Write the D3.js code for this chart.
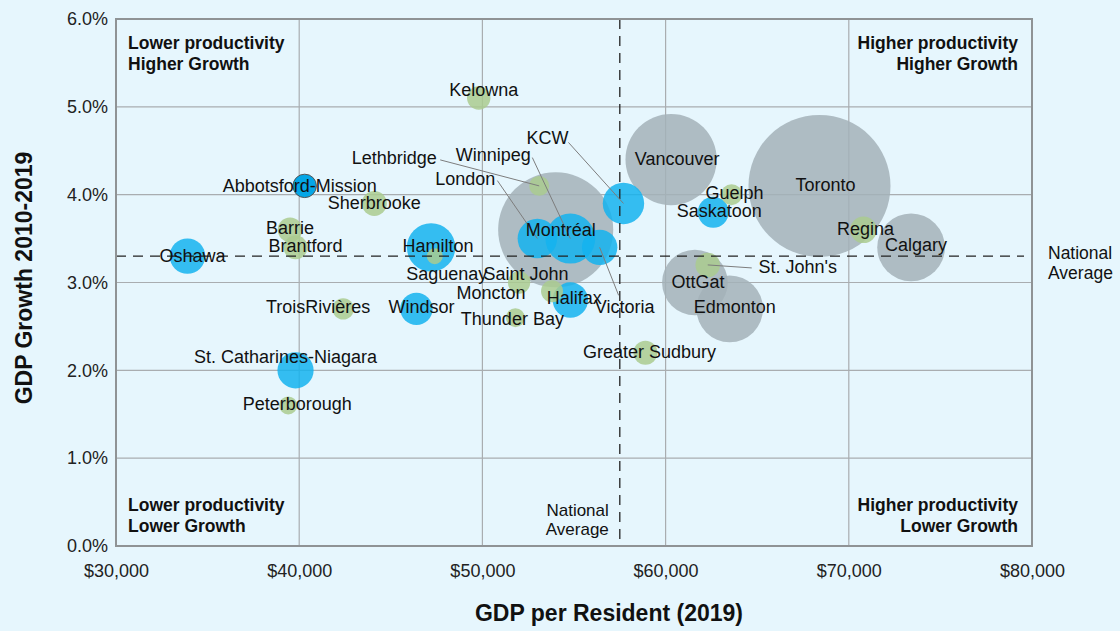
<!DOCTYPE html>
<html>
<head>
<meta charset="utf-8">
<script src="https://cdn.jsdelivr.net/npm/d3@7"></script>
<style>
  html, body { margin: 0; padding: 0; background: #e6f6fd; }
  svg { display: block; font-family: "Liberation Sans", Arial, Helvetica, sans-serif; }
</style>
</head>
<body>
<svg id="chart" width="1120" height="631"></svg>
<script>
// Census metropolitan areas: GDP per resident (2019), GDP growth 2010-2019 (%),
// population (thousands) and size class.
const cities = ["Toronto", "Montréal", "Vancouver", "Calgary", "Edmonton", "OttGat",
  "Winnipeg", "Hamilton", "KCW", "London", "St. Catharines-Niagara", "Halifax", "Oshawa",
  "Victoria", "Windsor", "Saskatoon", "Abbotsford-Mission",
  "Regina", "Sherbrooke", "St. John's", "Barrie", "Greater Sudbury", "Kelowna", "Brantford",
  "Guelph", "TroisRivières", "Saint John", "Moncton", "Lethbridge", "Thunder Bay",
  "Peterborough", "Saguenay"];
const gdpPerResident = [68400, 54000, 60300, 73400, 63500, 61600,
  54800, 47200, 57700, 53000, 39800, 54800, 33900,
  56400, 46400, 62600, 40300,
  70800, 44100, 62300, 39500, 58900, 49800, 39800,
  63600, 42400, 53800, 52000, 53100, 51800,
  39400, 47400];
const gdpGrowth = [4.1, 3.6, 4.4, 3.4, 2.7, 3.0,
  3.5, 3.4, 3.9, 3.5, 2.0, 2.8, 3.3,
  3.4, 2.7, 3.8, 4.1,
  3.6, 3.9, 3.2, 3.6, 2.2, 5.1, 3.4,
  4.0, 2.7, 2.9, 3.0, 4.1, 2.6,
  1.6, 3.3];
const population = [6470, 4250, 2670, 1470, 1425, 1385,
  800, 752, 550, 500, 420, 403, 403,
  403, 337, 305, 176,
  227, 200, 194, 194, 185, 176, 185,
  142, 147, 155, 160, 128, 116,
  104, 82];
const sizeClass = ["large", "large", "large", "large", "large", "large",
  "mid", "mid", "mid", "mid", "mid", "mid", "mid",
  "mid", "mid", "mid", "highlight",
  "small", "small", "small", "small", "small", "small", "small",
  "small", "small", "small", "small", "small", "small",
  "small", "small"];

const nationalGdpPerResident = 57500;
const nationalGrowth = 3.3;

const xTicks = [30000, 40000, 50000, 60000, 70000, 80000];
const yTicks = [0, 1, 2, 3, 4, 5, 6];

// Label placement (pixel offsets of the label centre from the bubble centre),
// plus optional leader-line end offsets relative to the label centre.
const labelLayout = {
  "Toronto": [6, -1], "Montréal": [5, 0], "Vancouver": [6, -1], "Calgary": [5, -2],
  "Edmonton": [5, -2], "OttGat": [3, -1, -6, 1],
  "Winnipeg": [-77, -84, 39, 3], "Hamilton": [7, -1], "KCW": [-76, -65, 21, 4],
  "London": [-72, -60, 32, 2], "St. Catharines-Niagara": [-10, -13], "Halifax": [4, -2],
  "Oshawa": [5, 0], "Victoria": [25, 60, -6, -12], "Windsor": [5, -2], "Saskatoon": [6, -1],
  "Abbotsford-Mission": [-5, 0], "Regina": [2, -1], "Sherbrooke": [0, 0],
  "St. John's": [90, 2, -46, 1], "Barrie": [0, -2], "Greater Sudbury": [4, -1],
  "Kelowna": [5, -8], "Brantford": [10, -1], "Guelph": [3, -2], "TroisRivières": [-25, -2],
  "Saint John": [-26, -17], "Moncton": [-28, 10], "Lethbridge": [-145, -28, 46, 2],
  "Thunder Bay": [-3, 1], "Peterborough": [9, -1], "Saguenay": [12, 18]
};

const fills = { large: "#a3b2b9", mid: "#14b3ef", small: "#aacb8f", highlight: "#05a6e6" };

const data = cities.map((name, i) => ({
  name, x: gdpPerResident[i], y: gdpGrowth[i], pop: population[i], cls: sizeClass[i]
}));

const svg = d3.select("#chart");
const W = 1120, H = 631;
const plot = { left: 116, right: 1032, top: 19, bottom: 546 };

const x = d3.scaleLinear().domain([30000, 80000]).range([plot.left, plot.right]);
const y = d3.scaleLinear().domain([0, 6]).range([plot.bottom, plot.top]);
const r = d3.scaleSqrt().domain([0, 6470]).range([0, 71]);

svg.append("rect").attr("width", W).attr("height", H).attr("fill", "#e6f6fd");

// grid
const grid = svg.append("g");
grid.selectAll("line.gx").data(xTicks.slice(1, -1)).join("line")
  .attr("x1", d => x(d)).attr("x2", d => x(d))
  .attr("y1", plot.top).attr("y2", plot.bottom)
  .attr("stroke", "#a9adb0").attr("stroke-width", 1.2);
grid.selectAll("line.gy").data(yTicks.slice(1, -1)).join("line")
  .attr("y1", d => y(d)).attr("y2", d => y(d))
  .attr("x1", plot.left).attr("x2", plot.right)
  .attr("stroke", "#a9adb0").attr("stroke-width", 1.2);

// axes (ticks as text only)
const xAxis = d3.axisBottom(x).tickValues(xTicks).tickSize(0).tickPadding(18)
  .tickFormat(d => "$" + d3.format(",")(d));
svg.append("g").attr("transform", `translate(0,${plot.bottom})`).call(xAxis)
  .call(g => g.select(".domain").remove())
  .selectAll("text").attr("font-size", 18).attr("fill", "#222").attr("font-family", null);

const yAxis = d3.axisLeft(y).tickValues(yTicks).tickSize(0).tickPadding(8)
  .tickFormat(d => d3.format(".1f")(d) + "%");
svg.append("g").attr("transform", `translate(${plot.left},0)`).call(yAxis)
  .call(g => g.select(".domain").remove())
  .selectAll("text").attr("font-size", 18).attr("fill", "#222").attr("font-family", null);

// bubbles, largest first
const sorted = data.slice().sort((a, b) => b.pop - a.pop);
svg.append("g").selectAll("circle").data(sorted).join("circle")
  .attr("cx", d => x(d.x)).attr("cy", d => y(d.y)).attr("r", d => r(d.pop))
  .attr("fill", d => fills[d.cls])
  .attr("fill-opacity", d => d.cls === "highlight" ? 1 : 0.85)
  .attr("stroke", d => d.cls === "highlight" ? "#555" : "none")
  .attr("stroke-width", 1);

// national average reference lines
svg.append("line")
  .attr("x1", plot.left).attr("x2", plot.right - 8)
  .attr("y1", y(nationalGrowth)).attr("y2", y(nationalGrowth))
  .attr("stroke", "#222").attr("stroke-width", 1.3).attr("stroke-dasharray", "10,7");
svg.append("line")
  .attr("x1", x(nationalGdpPerResident)).attr("x2", x(nationalGdpPerResident))
  .attr("y1", plot.top).attr("y2", plot.bottom)
  .attr("stroke", "#222").attr("stroke-width", 1.3).attr("stroke-dasharray", "10,7");

// frame
svg.append("rect")
  .attr("x", plot.left).attr("y", plot.top)
  .attr("width", plot.right - plot.left).attr("height", plot.bottom - plot.top)
  .attr("fill", "none").attr("stroke", "#8f9395").attr("stroke-width", 2);

// leader lines
const labels = data.map(d => {
  const L = labelLayout[d.name];
  const cx = x(d.x), cy = y(d.y);
  return { ...d, cx, cy, lx: cx + L[0], ly: cy + L[1], leader: L.length > 2 ? [L[2], L[3]] : null };
});
svg.append("g").selectAll("line").data(labels.filter(d => d.leader)).join("line")
  .attr("x1", d => d.cx).attr("y1", d => d.cy)
  .attr("x2", d => d.lx + d.leader[0]).attr("y2", d => d.ly + d.leader[1])
  .attr("stroke", "#7d7d7d").attr("stroke-width", 1);

// city labels
svg.append("g").selectAll("text").data(labels).join("text")
  .attr("x", d => d.lx).attr("y", d => d.ly)
  .attr("text-anchor", "middle").attr("dominant-baseline", "central")
  .attr("font-size", 18).attr("fill", "#111")
  .text(d => d.name);

// quadrant captions
function block(lines, xp, yp, anchor, weight, size, lead) {
  const t = svg.append("text").attr("text-anchor", anchor)
    .attr("font-size", size).attr("font-weight", weight).attr("fill", "#111");
  lines.forEach((s, i) => t.append("tspan").attr("x", xp).attr("y", yp + i * lead)
    .attr("dominant-baseline", "central").text(s));
}
block(["Lower productivity", "Higher Growth"], 128, 43, "start", "bold", 17.5, 20.5);
block(["Higher productivity", "Higher Growth"], 1018, 43, "end", "bold", 17.5, 20.5);
block(["Lower productivity", "Lower Growth"], 128, 505, "start", "bold", 17.5, 20.5);
block(["Higher productivity", "Lower Growth"], 1018, 505, "end", "bold", 17.5, 20.5);

block(["National", "Average"], 1048, 253, "start", "normal", 17.5, 20);
block(["National", "Average"], x(nationalGdpPerResident) - 11, 510.5, "end", "normal", 17, 18.5);

// axis titles
svg.append("text").attr("x", 609).attr("y", 613)
  .attr("text-anchor", "middle").attr("dominant-baseline", "central")
  .attr("font-size", 23).attr("font-weight", "bold").attr("fill", "#111")
  .text("GDP per Resident (2019)");
svg.append("text").attr("transform", "translate(24,278) rotate(-90)")
  .attr("text-anchor", "middle").attr("dominant-baseline", "central")
  .attr("font-size", 23).attr("font-weight", "bold").attr("fill", "#111")
  .text("GDP Growth 2010-2019");
</script>
</body>
</html>
